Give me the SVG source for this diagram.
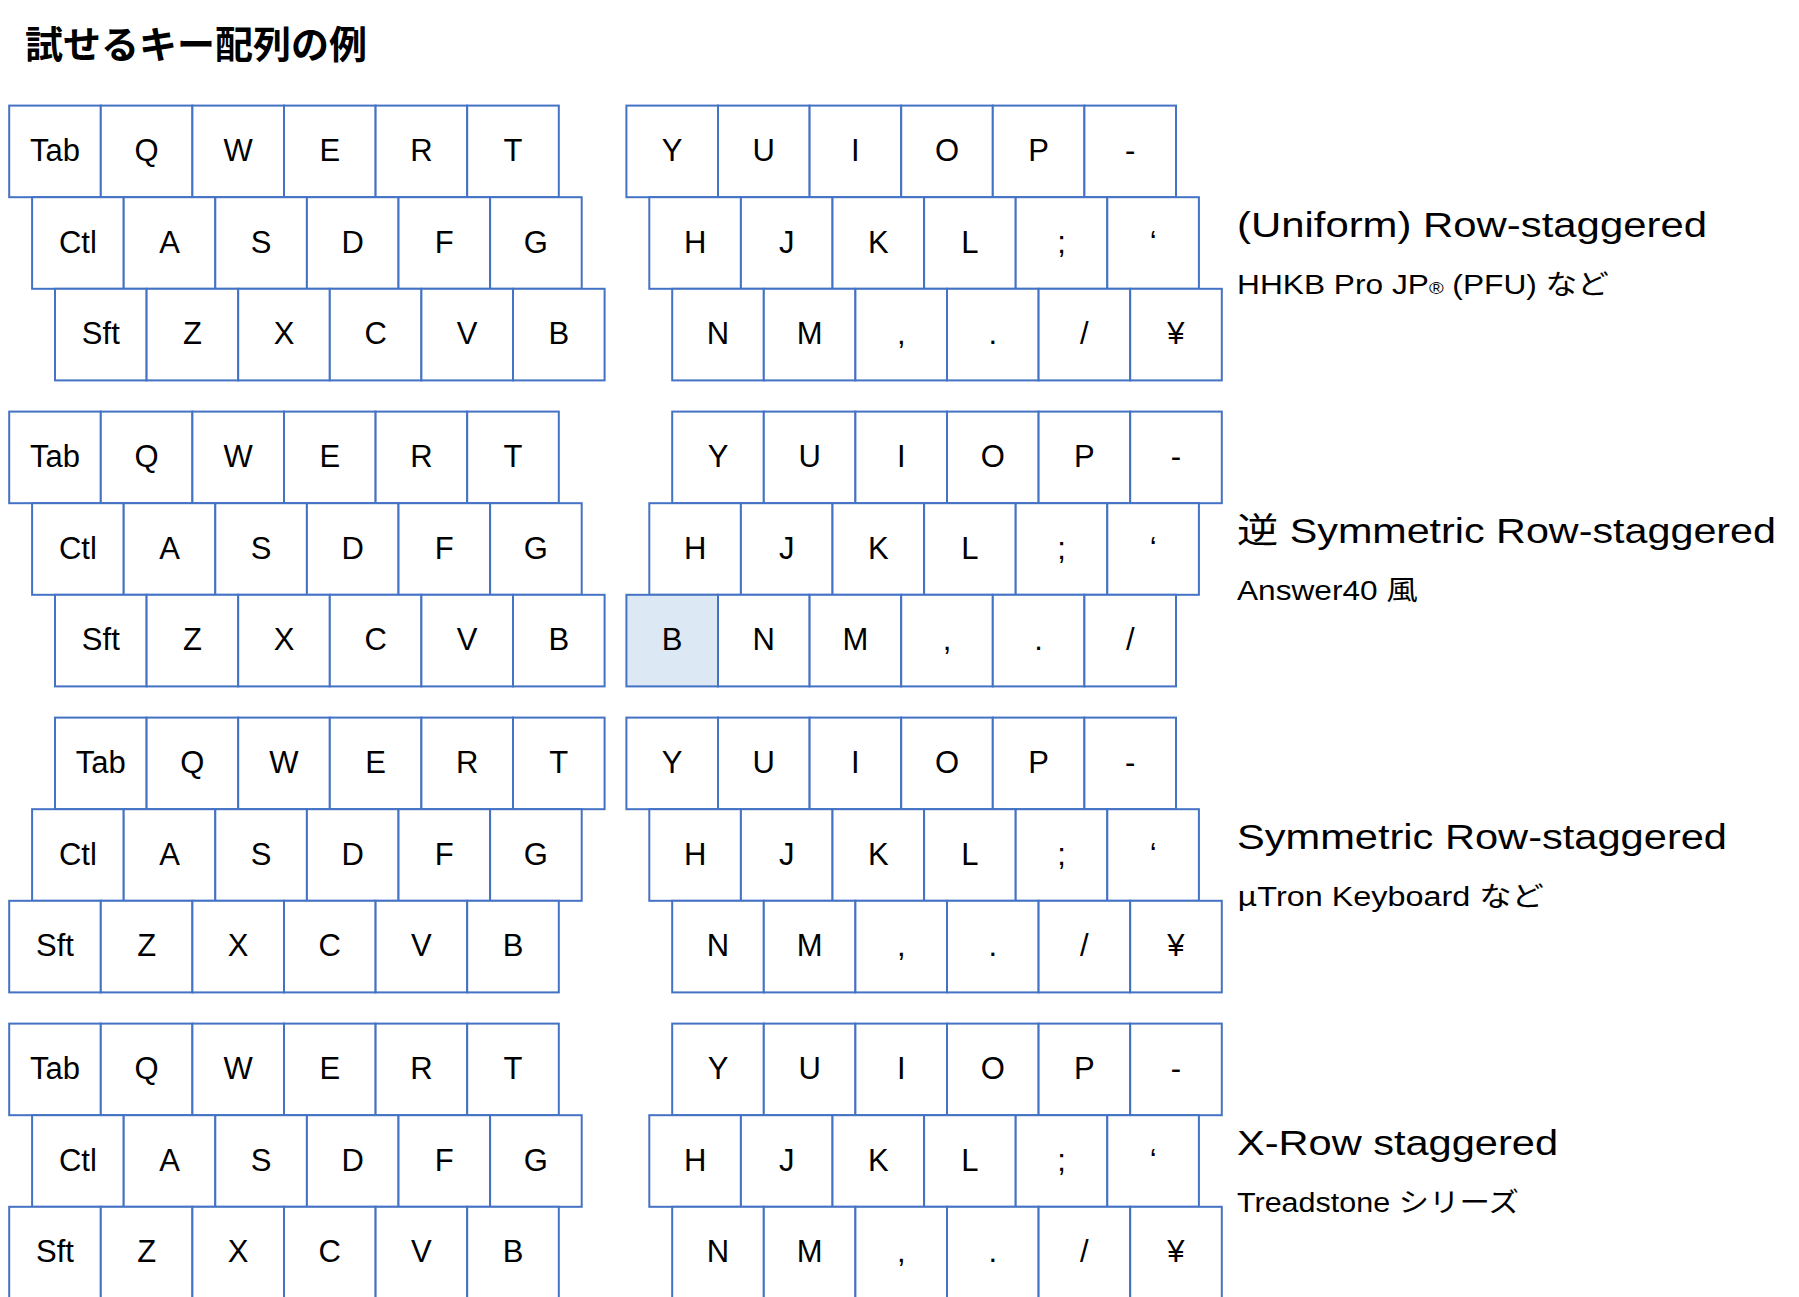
<svg xmlns="http://www.w3.org/2000/svg" xmlns:xlink="http://www.w3.org/1999/xlink" width="1799" height="1297" viewBox="0 0 1799 1297">
<style>
.k{fill:#ffffff;stroke:#4472c4;stroke-width:2}
.hl{fill:#dde8f5;stroke:#4472c4;stroke-width:2}
.l{font-family:"Liberation Sans","Noto Sans CJK JP",sans-serif;font-size:31px;fill:#000;text-anchor:middle}
.t{font-family:"Liberation Sans","Noto Sans CJK JP",sans-serif;font-size:35px;fill:#000}
.s{font-family:"Liberation Sans","Noto Sans CJK JP",sans-serif;font-size:27px;fill:#000}
.h{font-family:"Noto Sans CJK JP",sans-serif;font-size:38px;font-weight:bold;fill:#000}
.j{font-family:"Noto Sans CJK JP",sans-serif}
</style>
<defs>
<rect id="kr" class="k" width="91.6" height="91.6"/>
<rect id="kh" class="hl" width="91.6" height="91.6"/>
</defs>
<rect width="1799" height="1297" fill="#ffffff"/>
<text class="h" x="25" y="58">試せるキー配列の例</text>

<!-- Keyboard 1: (Uniform) Row-staggered -->
<g id="kb1">
<g id="kb1-Tab" transform="translate(9.2,105.6)"><use href="#kr"/><text class="l" x="45.8" y="55.5">Tab</text></g>
<g id="kb1-Q" transform="translate(100.8,105.6)"><use href="#kr"/><text class="l" x="45.8" y="55.5">Q</text></g>
<g id="kb1-W" transform="translate(192.4,105.6)"><use href="#kr"/><text class="l" x="45.8" y="55.5">W</text></g>
<g id="kb1-E" transform="translate(284,105.6)"><use href="#kr"/><text class="l" x="45.8" y="55.5">E</text></g>
<g id="kb1-R" transform="translate(375.6,105.6)"><use href="#kr"/><text class="l" x="45.8" y="55.5">R</text></g>
<g id="kb1-T" transform="translate(467.2,105.6)"><use href="#kr"/><text class="l" x="45.8" y="55.5">T</text></g>
<g id="kb1-Ctl" transform="translate(32.1,197.2)"><use href="#kr"/><text class="l" x="45.8" y="55.5">Ctl</text></g>
<g id="kb1-A" transform="translate(123.7,197.2)"><use href="#kr"/><text class="l" x="45.8" y="55.5">A</text></g>
<g id="kb1-S" transform="translate(215.3,197.2)"><use href="#kr"/><text class="l" x="45.8" y="55.5">S</text></g>
<g id="kb1-D" transform="translate(306.9,197.2)"><use href="#kr"/><text class="l" x="45.8" y="55.5">D</text></g>
<g id="kb1-F" transform="translate(398.5,197.2)"><use href="#kr"/><text class="l" x="45.8" y="55.5">F</text></g>
<g id="kb1-G" transform="translate(490.1,197.2)"><use href="#kr"/><text class="l" x="45.8" y="55.5">G</text></g>
<g id="kb1-Sft" transform="translate(55,288.8)"><use href="#kr"/><text class="l" x="45.8" y="55.5">Sft</text></g>
<g id="kb1-Z" transform="translate(146.6,288.8)"><use href="#kr"/><text class="l" x="45.8" y="55.5">Z</text></g>
<g id="kb1-X" transform="translate(238.2,288.8)"><use href="#kr"/><text class="l" x="45.8" y="55.5">X</text></g>
<g id="kb1-C" transform="translate(329.8,288.8)"><use href="#kr"/><text class="l" x="45.8" y="55.5">C</text></g>
<g id="kb1-V" transform="translate(421.4,288.8)"><use href="#kr"/><text class="l" x="45.8" y="55.5">V</text></g>
<g id="kb1-B" transform="translate(513,288.8)"><use href="#kr"/><text class="l" x="45.8" y="55.5">B</text></g>
<g id="kb1-Y" transform="translate(626.4,105.6)"><use href="#kr"/><text class="l" x="45.8" y="55.5">Y</text></g>
<g id="kb1-U" transform="translate(718,105.6)"><use href="#kr"/><text class="l" x="45.8" y="55.5">U</text></g>
<g id="kb1-I" transform="translate(809.6,105.6)"><use href="#kr"/><text class="l" x="45.8" y="55.5">I</text></g>
<g id="kb1-O" transform="translate(901.2,105.6)"><use href="#kr"/><text class="l" x="45.8" y="55.5">O</text></g>
<g id="kb1-P" transform="translate(992.8,105.6)"><use href="#kr"/><text class="l" x="45.8" y="55.5">P</text></g>
<g id="kb1-minus" transform="translate(1084.4,105.6)"><use href="#kr"/><text class="l" x="45.8" y="55.5">-</text></g>
<g id="kb1-H" transform="translate(649.3,197.2)"><use href="#kr"/><text class="l" x="45.8" y="55.5">H</text></g>
<g id="kb1-J" transform="translate(740.9,197.2)"><use href="#kr"/><text class="l" x="45.8" y="55.5">J</text></g>
<g id="kb1-K" transform="translate(832.5,197.2)"><use href="#kr"/><text class="l" x="45.8" y="55.5">K</text></g>
<g id="kb1-L" transform="translate(924.1,197.2)"><use href="#kr"/><text class="l" x="45.8" y="55.5">L</text></g>
<g id="kb1-semi" transform="translate(1015.7,197.2)"><use href="#kr"/><text class="l" x="45.8" y="55.5">;</text></g>
<g id="kb1-quote" transform="translate(1107.3,197.2)"><use href="#kr"/><text class="l" x="45.8" y="55.5">‘</text></g>
<g id="kb1-N" transform="translate(672.2,288.8)"><use href="#kr"/><text class="l" x="45.8" y="55.5">N</text></g>
<g id="kb1-M" transform="translate(763.8,288.8)"><use href="#kr"/><text class="l" x="45.8" y="55.5">M</text></g>
<g id="kb1-comma" transform="translate(855.4,288.8)"><use href="#kr"/><text class="l" x="45.8" y="55.5">,</text></g>
<g id="kb1-period" transform="translate(947,288.8)"><use href="#kr"/><text class="l" x="45.8" y="55.5">.</text></g>
<g id="kb1-slash" transform="translate(1038.6,288.8)"><use href="#kr"/><text class="l" x="45.8" y="55.5">/</text></g>
<g id="kb1-yen" transform="translate(1130.2,288.8)"><use href="#kr"/><text class="l" x="45.8" y="55.5">¥</text></g>
</g>
<g id="label1">
<text class="t" x="1237" y="236.5" textLength="470" lengthAdjust="spacingAndGlyphs">(Uniform) Row-staggered</text>
<text class="s" x="1237" y="293.5" textLength="372" lengthAdjust="spacingAndGlyphs">HHKB Pro JP<tspan font-size="17">®</tspan> (PFU) など</text>
</g>

<!-- Keyboard 2: 逆 Symmetric Row-staggered -->
<g id="kb2">
<g id="kb2-Tab" transform="translate(9.2,411.6)"><use href="#kr"/><text class="l" x="45.8" y="55.5">Tab</text></g>
<g id="kb2-Q" transform="translate(100.8,411.6)"><use href="#kr"/><text class="l" x="45.8" y="55.5">Q</text></g>
<g id="kb2-W" transform="translate(192.4,411.6)"><use href="#kr"/><text class="l" x="45.8" y="55.5">W</text></g>
<g id="kb2-E" transform="translate(284,411.6)"><use href="#kr"/><text class="l" x="45.8" y="55.5">E</text></g>
<g id="kb2-R" transform="translate(375.6,411.6)"><use href="#kr"/><text class="l" x="45.8" y="55.5">R</text></g>
<g id="kb2-T" transform="translate(467.2,411.6)"><use href="#kr"/><text class="l" x="45.8" y="55.5">T</text></g>
<g id="kb2-Ctl" transform="translate(32.1,503.2)"><use href="#kr"/><text class="l" x="45.8" y="55.5">Ctl</text></g>
<g id="kb2-A" transform="translate(123.7,503.2)"><use href="#kr"/><text class="l" x="45.8" y="55.5">A</text></g>
<g id="kb2-S" transform="translate(215.3,503.2)"><use href="#kr"/><text class="l" x="45.8" y="55.5">S</text></g>
<g id="kb2-D" transform="translate(306.9,503.2)"><use href="#kr"/><text class="l" x="45.8" y="55.5">D</text></g>
<g id="kb2-F" transform="translate(398.5,503.2)"><use href="#kr"/><text class="l" x="45.8" y="55.5">F</text></g>
<g id="kb2-G" transform="translate(490.1,503.2)"><use href="#kr"/><text class="l" x="45.8" y="55.5">G</text></g>
<g id="kb2-Sft" transform="translate(55,594.8)"><use href="#kr"/><text class="l" x="45.8" y="55.5">Sft</text></g>
<g id="kb2-Z" transform="translate(146.6,594.8)"><use href="#kr"/><text class="l" x="45.8" y="55.5">Z</text></g>
<g id="kb2-X" transform="translate(238.2,594.8)"><use href="#kr"/><text class="l" x="45.8" y="55.5">X</text></g>
<g id="kb2-C" transform="translate(329.8,594.8)"><use href="#kr"/><text class="l" x="45.8" y="55.5">C</text></g>
<g id="kb2-V" transform="translate(421.4,594.8)"><use href="#kr"/><text class="l" x="45.8" y="55.5">V</text></g>
<g id="kb2-B" transform="translate(513,594.8)"><use href="#kr"/><text class="l" x="45.8" y="55.5">B</text></g>
<g id="kb2-Y" transform="translate(672.2,411.6)"><use href="#kr"/><text class="l" x="45.8" y="55.5">Y</text></g>
<g id="kb2-U" transform="translate(763.8,411.6)"><use href="#kr"/><text class="l" x="45.8" y="55.5">U</text></g>
<g id="kb2-I" transform="translate(855.4,411.6)"><use href="#kr"/><text class="l" x="45.8" y="55.5">I</text></g>
<g id="kb2-O" transform="translate(947,411.6)"><use href="#kr"/><text class="l" x="45.8" y="55.5">O</text></g>
<g id="kb2-P" transform="translate(1038.6,411.6)"><use href="#kr"/><text class="l" x="45.8" y="55.5">P</text></g>
<g id="kb2-minus" transform="translate(1130.2,411.6)"><use href="#kr"/><text class="l" x="45.8" y="55.5">-</text></g>
<g id="kb2-H" transform="translate(649.3,503.2)"><use href="#kr"/><text class="l" x="45.8" y="55.5">H</text></g>
<g id="kb2-J" transform="translate(740.9,503.2)"><use href="#kr"/><text class="l" x="45.8" y="55.5">J</text></g>
<g id="kb2-K" transform="translate(832.5,503.2)"><use href="#kr"/><text class="l" x="45.8" y="55.5">K</text></g>
<g id="kb2-L" transform="translate(924.1,503.2)"><use href="#kr"/><text class="l" x="45.8" y="55.5">L</text></g>
<g id="kb2-semi" transform="translate(1015.7,503.2)"><use href="#kr"/><text class="l" x="45.8" y="55.5">;</text></g>
<g id="kb2-quote" transform="translate(1107.3,503.2)"><use href="#kr"/><text class="l" x="45.8" y="55.5">‘</text></g>
<g id="kb2-B2" transform="translate(626.4,594.8)"><use href="#kh"/><text class="l" x="45.8" y="55.5">B</text></g>
<g id="kb2-N" transform="translate(718,594.8)"><use href="#kr"/><text class="l" x="45.8" y="55.5">N</text></g>
<g id="kb2-M" transform="translate(809.6,594.8)"><use href="#kr"/><text class="l" x="45.8" y="55.5">M</text></g>
<g id="kb2-comma" transform="translate(901.2,594.8)"><use href="#kr"/><text class="l" x="45.8" y="55.5">,</text></g>
<g id="kb2-period" transform="translate(992.8,594.8)"><use href="#kr"/><text class="l" x="45.8" y="55.5">.</text></g>
<g id="kb2-slash" transform="translate(1084.4,594.8)"><use href="#kr"/><text class="l" x="45.8" y="55.5">/</text></g>
</g>
<g id="label2">
<text class="t" x="1237" y="542.5" textLength="539" lengthAdjust="spacingAndGlyphs">逆 Symmetric Row-staggered</text>
<text class="s" x="1237" y="599.5" textLength="181" lengthAdjust="spacingAndGlyphs">Answer40 風</text>
</g>

<!-- Keyboard 3: Symmetric Row-staggered -->
<g id="kb3">
<g id="kb3-Tab" transform="translate(55,717.6)"><use href="#kr"/><text class="l" x="45.8" y="55.5">Tab</text></g>
<g id="kb3-Q" transform="translate(146.6,717.6)"><use href="#kr"/><text class="l" x="45.8" y="55.5">Q</text></g>
<g id="kb3-W" transform="translate(238.2,717.6)"><use href="#kr"/><text class="l" x="45.8" y="55.5">W</text></g>
<g id="kb3-E" transform="translate(329.8,717.6)"><use href="#kr"/><text class="l" x="45.8" y="55.5">E</text></g>
<g id="kb3-R" transform="translate(421.4,717.6)"><use href="#kr"/><text class="l" x="45.8" y="55.5">R</text></g>
<g id="kb3-T" transform="translate(513,717.6)"><use href="#kr"/><text class="l" x="45.8" y="55.5">T</text></g>
<g id="kb3-Ctl" transform="translate(32.1,809.2)"><use href="#kr"/><text class="l" x="45.8" y="55.5">Ctl</text></g>
<g id="kb3-A" transform="translate(123.7,809.2)"><use href="#kr"/><text class="l" x="45.8" y="55.5">A</text></g>
<g id="kb3-S" transform="translate(215.3,809.2)"><use href="#kr"/><text class="l" x="45.8" y="55.5">S</text></g>
<g id="kb3-D" transform="translate(306.9,809.2)"><use href="#kr"/><text class="l" x="45.8" y="55.5">D</text></g>
<g id="kb3-F" transform="translate(398.5,809.2)"><use href="#kr"/><text class="l" x="45.8" y="55.5">F</text></g>
<g id="kb3-G" transform="translate(490.1,809.2)"><use href="#kr"/><text class="l" x="45.8" y="55.5">G</text></g>
<g id="kb3-Sft" transform="translate(9.2,900.8)"><use href="#kr"/><text class="l" x="45.8" y="55.5">Sft</text></g>
<g id="kb3-Z" transform="translate(100.8,900.8)"><use href="#kr"/><text class="l" x="45.8" y="55.5">Z</text></g>
<g id="kb3-X" transform="translate(192.4,900.8)"><use href="#kr"/><text class="l" x="45.8" y="55.5">X</text></g>
<g id="kb3-C" transform="translate(284,900.8)"><use href="#kr"/><text class="l" x="45.8" y="55.5">C</text></g>
<g id="kb3-V" transform="translate(375.6,900.8)"><use href="#kr"/><text class="l" x="45.8" y="55.5">V</text></g>
<g id="kb3-B" transform="translate(467.2,900.8)"><use href="#kr"/><text class="l" x="45.8" y="55.5">B</text></g>
<g id="kb3-Y" transform="translate(626.4,717.6)"><use href="#kr"/><text class="l" x="45.8" y="55.5">Y</text></g>
<g id="kb3-U" transform="translate(718,717.6)"><use href="#kr"/><text class="l" x="45.8" y="55.5">U</text></g>
<g id="kb3-I" transform="translate(809.6,717.6)"><use href="#kr"/><text class="l" x="45.8" y="55.5">I</text></g>
<g id="kb3-O" transform="translate(901.2,717.6)"><use href="#kr"/><text class="l" x="45.8" y="55.5">O</text></g>
<g id="kb3-P" transform="translate(992.8,717.6)"><use href="#kr"/><text class="l" x="45.8" y="55.5">P</text></g>
<g id="kb3-minus" transform="translate(1084.4,717.6)"><use href="#kr"/><text class="l" x="45.8" y="55.5">-</text></g>
<g id="kb3-H" transform="translate(649.3,809.2)"><use href="#kr"/><text class="l" x="45.8" y="55.5">H</text></g>
<g id="kb3-J" transform="translate(740.9,809.2)"><use href="#kr"/><text class="l" x="45.8" y="55.5">J</text></g>
<g id="kb3-K" transform="translate(832.5,809.2)"><use href="#kr"/><text class="l" x="45.8" y="55.5">K</text></g>
<g id="kb3-L" transform="translate(924.1,809.2)"><use href="#kr"/><text class="l" x="45.8" y="55.5">L</text></g>
<g id="kb3-semi" transform="translate(1015.7,809.2)"><use href="#kr"/><text class="l" x="45.8" y="55.5">;</text></g>
<g id="kb3-quote" transform="translate(1107.3,809.2)"><use href="#kr"/><text class="l" x="45.8" y="55.5">‘</text></g>
<g id="kb3-N" transform="translate(672.2,900.8)"><use href="#kr"/><text class="l" x="45.8" y="55.5">N</text></g>
<g id="kb3-M" transform="translate(763.8,900.8)"><use href="#kr"/><text class="l" x="45.8" y="55.5">M</text></g>
<g id="kb3-comma" transform="translate(855.4,900.8)"><use href="#kr"/><text class="l" x="45.8" y="55.5">,</text></g>
<g id="kb3-period" transform="translate(947,900.8)"><use href="#kr"/><text class="l" x="45.8" y="55.5">.</text></g>
<g id="kb3-slash" transform="translate(1038.6,900.8)"><use href="#kr"/><text class="l" x="45.8" y="55.5">/</text></g>
<g id="kb3-yen" transform="translate(1130.2,900.8)"><use href="#kr"/><text class="l" x="45.8" y="55.5">¥</text></g>
</g>
<g id="label3">
<text class="t" x="1237" y="848.5" textLength="490" lengthAdjust="spacingAndGlyphs">Symmetric Row-staggered</text>
<text class="s" x="1237" y="905.5" textLength="307" lengthAdjust="spacingAndGlyphs"><tspan class="j">μ</tspan>Tron Keyboard など</text>
</g>

<!-- Keyboard 4: X-Row staggered -->
<g id="kb4">
<g id="kb4-Tab" transform="translate(9.2,1023.6)"><use href="#kr"/><text class="l" x="45.8" y="55.5">Tab</text></g>
<g id="kb4-Q" transform="translate(100.8,1023.6)"><use href="#kr"/><text class="l" x="45.8" y="55.5">Q</text></g>
<g id="kb4-W" transform="translate(192.4,1023.6)"><use href="#kr"/><text class="l" x="45.8" y="55.5">W</text></g>
<g id="kb4-E" transform="translate(284,1023.6)"><use href="#kr"/><text class="l" x="45.8" y="55.5">E</text></g>
<g id="kb4-R" transform="translate(375.6,1023.6)"><use href="#kr"/><text class="l" x="45.8" y="55.5">R</text></g>
<g id="kb4-T" transform="translate(467.2,1023.6)"><use href="#kr"/><text class="l" x="45.8" y="55.5">T</text></g>
<g id="kb4-Ctl" transform="translate(32.1,1115.2)"><use href="#kr"/><text class="l" x="45.8" y="55.5">Ctl</text></g>
<g id="kb4-A" transform="translate(123.7,1115.2)"><use href="#kr"/><text class="l" x="45.8" y="55.5">A</text></g>
<g id="kb4-S" transform="translate(215.3,1115.2)"><use href="#kr"/><text class="l" x="45.8" y="55.5">S</text></g>
<g id="kb4-D" transform="translate(306.9,1115.2)"><use href="#kr"/><text class="l" x="45.8" y="55.5">D</text></g>
<g id="kb4-F" transform="translate(398.5,1115.2)"><use href="#kr"/><text class="l" x="45.8" y="55.5">F</text></g>
<g id="kb4-G" transform="translate(490.1,1115.2)"><use href="#kr"/><text class="l" x="45.8" y="55.5">G</text></g>
<g id="kb4-Sft" transform="translate(9.2,1206.8)"><use href="#kr"/><text class="l" x="45.8" y="55.5">Sft</text></g>
<g id="kb4-Z" transform="translate(100.8,1206.8)"><use href="#kr"/><text class="l" x="45.8" y="55.5">Z</text></g>
<g id="kb4-X" transform="translate(192.4,1206.8)"><use href="#kr"/><text class="l" x="45.8" y="55.5">X</text></g>
<g id="kb4-C" transform="translate(284,1206.8)"><use href="#kr"/><text class="l" x="45.8" y="55.5">C</text></g>
<g id="kb4-V" transform="translate(375.6,1206.8)"><use href="#kr"/><text class="l" x="45.8" y="55.5">V</text></g>
<g id="kb4-B" transform="translate(467.2,1206.8)"><use href="#kr"/><text class="l" x="45.8" y="55.5">B</text></g>
<g id="kb4-Y" transform="translate(672.2,1023.6)"><use href="#kr"/><text class="l" x="45.8" y="55.5">Y</text></g>
<g id="kb4-U" transform="translate(763.8,1023.6)"><use href="#kr"/><text class="l" x="45.8" y="55.5">U</text></g>
<g id="kb4-I" transform="translate(855.4,1023.6)"><use href="#kr"/><text class="l" x="45.8" y="55.5">I</text></g>
<g id="kb4-O" transform="translate(947,1023.6)"><use href="#kr"/><text class="l" x="45.8" y="55.5">O</text></g>
<g id="kb4-P" transform="translate(1038.6,1023.6)"><use href="#kr"/><text class="l" x="45.8" y="55.5">P</text></g>
<g id="kb4-minus" transform="translate(1130.2,1023.6)"><use href="#kr"/><text class="l" x="45.8" y="55.5">-</text></g>
<g id="kb4-H" transform="translate(649.3,1115.2)"><use href="#kr"/><text class="l" x="45.8" y="55.5">H</text></g>
<g id="kb4-J" transform="translate(740.9,1115.2)"><use href="#kr"/><text class="l" x="45.8" y="55.5">J</text></g>
<g id="kb4-K" transform="translate(832.5,1115.2)"><use href="#kr"/><text class="l" x="45.8" y="55.5">K</text></g>
<g id="kb4-L" transform="translate(924.1,1115.2)"><use href="#kr"/><text class="l" x="45.8" y="55.5">L</text></g>
<g id="kb4-semi" transform="translate(1015.7,1115.2)"><use href="#kr"/><text class="l" x="45.8" y="55.5">;</text></g>
<g id="kb4-quote" transform="translate(1107.3,1115.2)"><use href="#kr"/><text class="l" x="45.8" y="55.5">‘</text></g>
<g id="kb4-N" transform="translate(672.2,1206.8)"><use href="#kr"/><text class="l" x="45.8" y="55.5">N</text></g>
<g id="kb4-M" transform="translate(763.8,1206.8)"><use href="#kr"/><text class="l" x="45.8" y="55.5">M</text></g>
<g id="kb4-comma" transform="translate(855.4,1206.8)"><use href="#kr"/><text class="l" x="45.8" y="55.5">,</text></g>
<g id="kb4-period" transform="translate(947,1206.8)"><use href="#kr"/><text class="l" x="45.8" y="55.5">.</text></g>
<g id="kb4-slash" transform="translate(1038.6,1206.8)"><use href="#kr"/><text class="l" x="45.8" y="55.5">/</text></g>
<g id="kb4-yen" transform="translate(1130.2,1206.8)"><use href="#kr"/><text class="l" x="45.8" y="55.5">¥</text></g>
</g>
<g id="label4">
<text class="t" x="1237" y="1154.5" textLength="321" lengthAdjust="spacingAndGlyphs">X-Row staggered</text>
<text class="s" x="1237" y="1211.5" textLength="282" lengthAdjust="spacingAndGlyphs">Treadstone シリーズ</text>
</g>
<g id="connectors"/>
</svg>
